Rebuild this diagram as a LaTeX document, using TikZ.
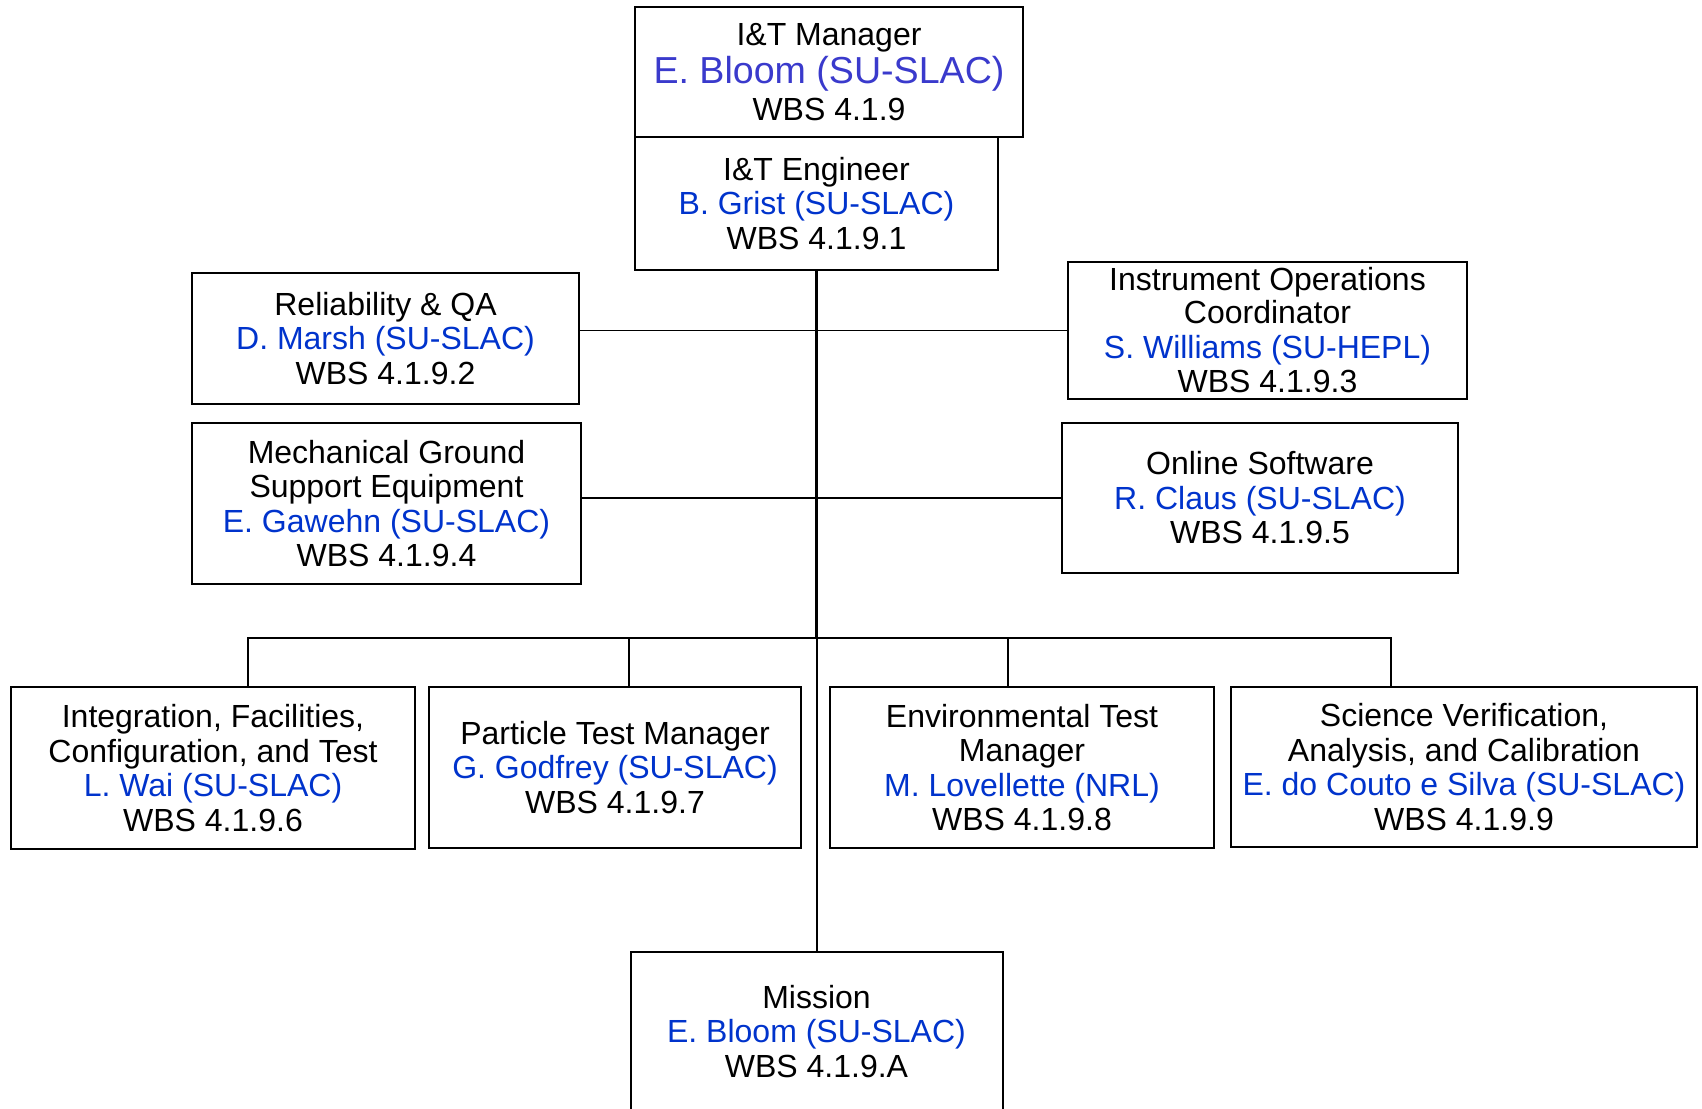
\documentclass[tikz,border=0pt]{standalone}
\usepackage{fontspec}
\setmainfont{Liberation Sans}
\definecolor{namebl}{RGB}{0,51,204}
\definecolor{headbl}{RGB}{58,58,204}
\newcommand{\who}[1]{\textcolor{namebl}{#1}}
\begin{document}
\begin{tikzpicture}[x=0.5pt,y=-0.5pt,
  orgbox/.style={draw, line width=1pt, inner sep=0pt, align=center,
    font=\fontsize{16}{17.25}\selectfont},
  link/.style={line width=0.85pt}]
\useasboundingbox (0,0) rectangle (1702,1108);
\clip (0,0) rectangle (1702,1108);

% management chain
\node[orgbox, minimum width=194pt, minimum height=65pt] (mgr) at (829,72)
  {I\&T Manager\\[1.5pt]{\fontsize{18.8}{18.8}\selectfont\color{headbl}E. Bloom (SU-SLAC)}\\[1.1pt]WBS 4.1.9};
\node[orgbox, minimum width=181.5pt, minimum height=66.5pt] (eng) at (816.5,203.5)
  {I\&T Engineer\\\who{B. Grist (SU-SLAC)}\\WBS 4.1.9.1};

% staff positions beside the spine
\node[orgbox, minimum width=193.5pt, minimum height=65.5pt] (rel) at (385.5,338.5)
  {Reliability \& QA\\\who{D. Marsh (SU-SLAC)}\\WBS 4.1.9.2};
\node[orgbox, minimum width=199.5pt, minimum height=68.5pt] (ioc) at (1267.5,330.5)
  {Instrument Operations\\[-0.8pt]Coordinator\\\who{S. Williams (SU-HEPL)}\\WBS 4.1.9.3};
\node[orgbox, minimum width=194.5pt, minimum height=80.5pt] (mgse) at (386.5,503.5)
  {Mechanical Ground\\Support Equipment\\\who{E. Gawehn (SU-SLAC)}\\WBS 4.1.9.4};
\node[orgbox, minimum width=198pt, minimum height=75pt] (osw) at (1260,498)
  {Online Software\\\who{R. Claus (SU-SLAC)}\\WBS 4.1.9.5};

% line elements
\node[orgbox, minimum width=202pt, minimum height=81pt] (ifct) at (213,768)
  {Integration, Facilities,\\Configuration, and Test\\\who{L. Wai (SU-SLAC)}\\WBS 4.1.9.6};
\node[orgbox, minimum width=186pt, minimum height=80.5pt] (ptm) at (615,767.5)
  {Particle Test Manager\\\who{G. Godfrey (SU-SLAC)}\\WBS 4.1.9.7};
\node[orgbox, minimum width=192pt, minimum height=80.5pt] (etm) at (1022,767.5)
  {Environmental Test\\Manager\\\who{M. Lovellette (NRL)}\\WBS 4.1.9.8};
\node[orgbox, minimum width=233pt, minimum height=80pt] (sva) at (1464,767)
  {Science Verification,\\Analysis, and Calibration\\\who{E. do Couto e Silva (SU-SLAC)}\\WBS 4.1.9.9};

\node[orgbox, minimum width=186pt, minimum height=79.5pt] (mis) at (816.5,1031.5)
  {Mission\\\who{E. Bloom (SU-SLAC)}\\WBS 4.1.9.A};

% spine and branches
\coordinate (spine) at (816.5,638.3);
\coordinate (dA) at (248,638.3);
\coordinate (dB) at (629,638.3);
\coordinate (dC) at (1008,638.3);
\coordinate (dD) at (1391,638.3);

\draw[line width=1.5pt] (eng.south) -- (spine);
\draw[line width=1pt] (spine) -- (mis.north);
\draw[link] (ioc.west) -- (ioc.west -| rel.east);
\draw[link] (osw.west) -- (osw.west -| mgse.east);
\draw[link] (dA |- ifct.north) -- (dA) -- (dD) -- (dD |- sva.north);
\draw[link] (dB) -- (dB |- ptm.north);
\draw[link] (dC) -- (dC |- etm.north);
\end{tikzpicture}
\end{document}
